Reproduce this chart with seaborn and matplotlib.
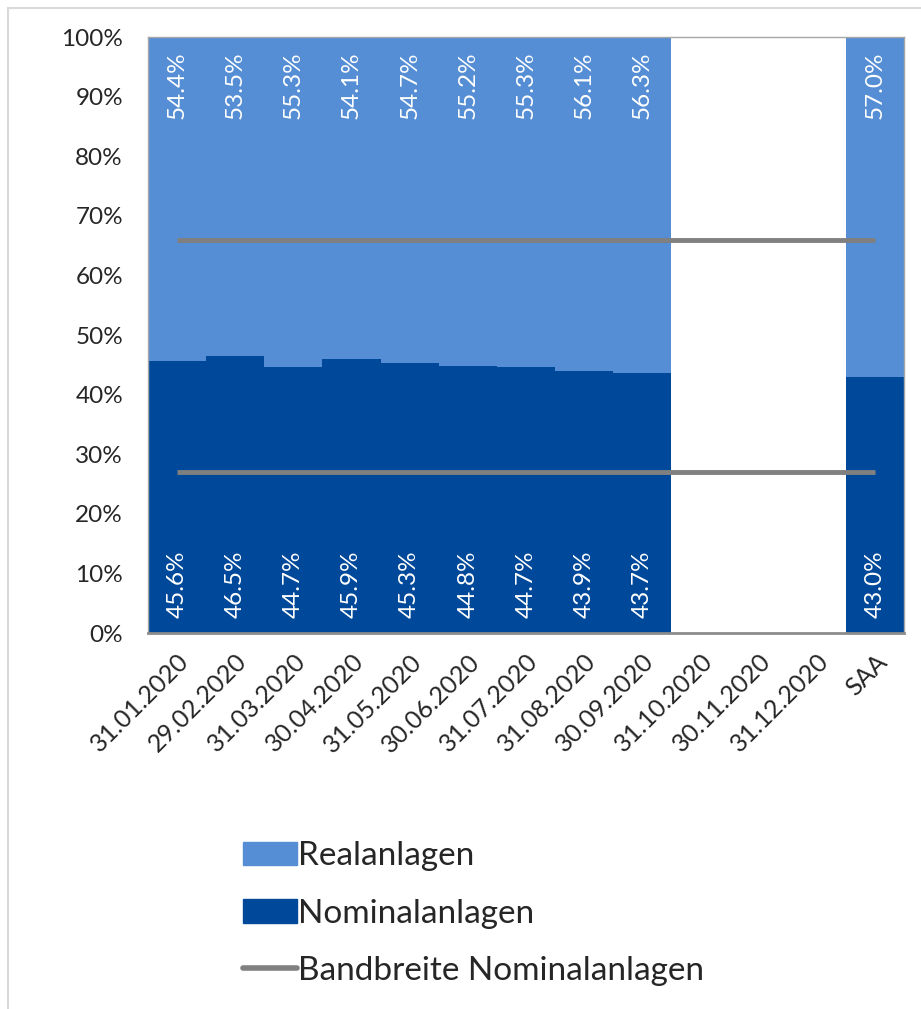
import matplotlib
matplotlib.use("Agg")
import matplotlib.pyplot as plt
import matplotlib.patches as mpatches
import matplotlib.lines as mlines
import numpy as np
import pandas as pd
import seaborn as sns

# chart data
dates = ["31.01.2020", "29.02.2020", "31.03.2020", "30.04.2020", "31.05.2020",
         "30.06.2020", "31.07.2020", "31.08.2020", "30.09.2020", "31.10.2020",
         "30.11.2020", "31.12.2020", "SAA"]
nominal = [45.6, 46.5, 44.7, 45.9, 45.3, 44.8, 44.7, 43.9, 43.7, np.nan, np.nan, np.nan, 43.0]
real = [54.4, 53.5, 55.3, 54.1, 54.7, 55.2, 55.3, 56.1, 56.3, np.nan, np.nan, np.nan, 57.0]
band_upper = 66
band_lower = 27

REAL_COLOR = "#558ED5"
NOMINAL_COLOR = "#00499A"
LINE_COLOR = "#808080"

df = pd.DataFrame({"date": dates, "nominal": nominal, "real": real})
df["total"] = df["nominal"] + df["real"]

sns.set_style("white")
plt.rcParams["font.family"] = ["Lato", "DejaVu Sans"]

fig = plt.figure(figsize=(9.21, 10.09), dpi=100)
ax = fig.add_axes([148 / 921, 1 - 633 / 1009, (904 - 148) / 921, (633 - 37) / 1009])

# light outer frame
fig.patches.append(mpatches.Rectangle((8 / 921, -0.1), 1.2, 1 - 8 / 1009 + 0.1,
                                      transform=fig.transFigure, fill=False,
                                      edgecolor="#d9d9d9", linewidth=1.5))

sns.barplot(data=df, x="date", y="total", order=dates, color=REAL_COLOR,
            width=1.0, saturation=1, linewidth=0, ax=ax)
sns.barplot(data=df, x="date", y="nominal", order=dates, color=NOMINAL_COLOR,
            width=1.0, saturation=1, linewidth=0, ax=ax)

xs = np.arange(len(dates))
ax.plot([xs[0], xs[-1]], [band_upper, band_upper], color=LINE_COLOR, lw=3.5, solid_capstyle="butt")
ax.plot([xs[0], xs[-1]], [band_lower, band_lower], color=LINE_COLOR, lw=3.5, solid_capstyle="butt")

for i, (n, r) in enumerate(zip(nominal, real)):
    if np.isnan(n):
        continue
    ax.text(i, 97.6, f"{r:.1f}%", rotation=90, ha="center", va="top",
            color="white", fontsize=17.5)
    ax.text(i, 2.6, f"{n:.1f}%", rotation=90, ha="center", va="bottom",
            color="white", fontsize=17.5)

ax.set_xlim(-0.5, len(dates) - 0.5)
ax.set_ylim(0, 100)
ax.set_yticks(range(0, 101, 10))
ax.set_yticklabels([f"{v}%" for v in range(0, 101, 10)], fontsize=17.5)
ax.set_xticks(xs)
ax.set_xticklabels(dates, rotation=45, ha="right", va="top",
                   rotation_mode="anchor", fontsize=18)
ax.tick_params(axis="y", length=0, pad=18)
ax.tick_params(axis="x", length=0, pad=12)
ax.set_xlabel("")
ax.set_ylabel("")
for side in ["top", "right", "left"]:
    ax.spines[side].set_color("#a6a6a6")
    ax.spines[side].set_linewidth(1.0)
ax.spines["bottom"].set_color("#8c8c8c")
ax.spines["bottom"].set_linewidth(2.0)

handles = [
    mpatches.Patch(color=REAL_COLOR, label="Realanlagen"),
    mpatches.Patch(color=NOMINAL_COLOR, label="Nominalanlagen"),
    mlines.Line2D([], [], color=LINE_COLOR, lw=4, label="Bandbreite Nominalanlagen"),
]
fig.legend(handles=handles, loc="upper left", bbox_to_anchor=(230 / 921, 1 - 828 / 1009),
           frameon=False, fontsize=24, handlelength=1.6, handletextpad=0.05,
           labelspacing=0.82, borderaxespad=0)

fig.savefig("out.png", dpi=100)
